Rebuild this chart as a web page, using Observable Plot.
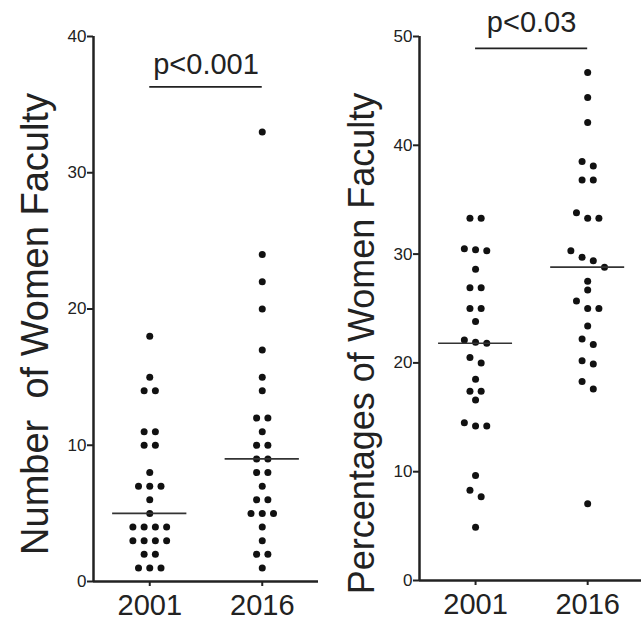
<!DOCTYPE html>
<html><head><meta charset="utf-8">
<script src="https://cdn.jsdelivr.net/npm/d3@7"></script>
<script src="https://cdn.jsdelivr.net/npm/@observablehq/plot@0.6"></script>
<style>
body{margin:0;background:#fff;}
#wrap{display:flex;width:641px;height:620px;overflow:hidden;}
#wrap svg{flex:none;display:block;}
#wrap svg text{white-space:pre;}
</style></head><body><div id="wrap"></div>
<script>
const years = ["2001", "2016"];
// Number of women faculty (left panel)
const numbers2001 = [18,15,14,14,11,11,10,10,8,7,7,7,6,5,4,4,4,4,3,3,3,3,2,2,1,1,1];
const numbers2016 = [33,24,22,20,17,15,14,12,12,11,10,10,9,9,8,8,7,6,6,5,5,5,4,3,2,2,1];
// Percentages of women faculty (right panel)
const pct2001 = [33.3,33.3,30.5,30.3,30.4,28.6,26.9,26.9,25.0,25.0,23.8,22.1,21.8,21.9,20.5,20.0,18.5,17.4,17.4,16.6,14.2,14.2,14.5,9.65,8.3,7.7,4.9];
const pct2016 = [46.7,44.4,42.1,38.5,38.1,36.8,36.8,33.8,33.3,33.3,30.3,29.7,29.4,28.8,27.5,26.7,25.7,25.0,25.0,23.4,22.2,21.7,20.2,19.9,18.3,17.6,7.05];
const pLabels = ["p<0.001", "p<0.03"];
const pBarValues = [36.3, 48.9];
const yLabels = ["Number  of Women Faculty", "Percentages of Women Faculty"];
const yTicksLeft = [0, 10, 20, 30, 40];
const yTicksRight = [0, 10, 20, 30, 40, 50];

// column-scatter layout: values close together share a row, centred on the category
function swarm(values, cat, thresh, step) {
  const sorted = values.map(v => ({v})).sort((a, b) => b.v - a.v);
  const out = []; let group = [];
  const flush = () => {
    const n = group.length;
    group.forEach((d, k) => out.push({value: d.v, cat, x: cat + (k - (n - 1) / 2) * step}));
    group = [];
  };
  for (const d of sorted) {
    if (group.length && group[group.length - 1].v - d.v >= thresh) flush();
    group.push(d);
  }
  flush();
  return out;
}

function panel({series, thresh, yDomain, yTicks, yLabel, pLabel, pY, pDy, width, marginLeft, marginRight, marginBottom, xMax, labelDx, labelDy, labelSize}) {
  const data = series.flatMap((vals, i) => swarm(vals, i + 1, thresh, 0.1));
  const med = series.map((vals, i) => ({cat: i + 1, m: d3.median(vals)}));
  const pxPerUnit = (width - marginLeft - marginRight) / (xMax - 0.5);
  const tickLen = 6 / pxPerUnit;
  const svg = Plot.plot({
    width, height: 620, marginTop: 36, marginBottom, marginLeft, marginRight,
    style: {fontFamily: "'Liberation Sans', Arial, sans-serif", fontSize: "17px", color: "#222", background: "white"},
    x: {domain: [0.5, xMax], ticks: [1, 2], tickFormat: i => years[i - 1], tickSize: 5, tickPadding: 8, label: null},
    y: {domain: yDomain, axis: null},
    marks: [
      // y axis: ticks and labels
      Plot.ruleY(yTicks, {y: d => d, x1: 0.5 - tickLen, x2: 0.5, stroke: "#222", strokeWidth: 2}),
      Plot.text(yTicks, {y: d => d, frameAnchor: "left", text: d => String(d), textAnchor: "end", dx: -7, fontSize: 17, fill: "#222"}),
      Plot.ruleX([0.5], {y1: yDomain[0], y2: yDomain[1], stroke: "#222", strokeWidth: 2.5}),
      Plot.ruleY([yDomain[0]], {x1: 0.5, x2: xMax, stroke: "#222", strokeWidth: 2.5}),
      Plot.dot(data, {x: "x", y: "value", r: 3.5, fill: "#111", stroke: null}),
      Plot.ruleY(med, {y: "m", x1: d => d.cat - 0.33, x2: d => d.cat + 0.33, stroke: "#333", strokeWidth: 1.6}),
      Plot.ruleY([pY], {x1: 1, x2: 2, stroke: "#222", strokeWidth: 1.8}),
      Plot.text([pLabel], {x: 1.5, y: pY, text: d => d, dy: pDy, lineAnchor: "bottom", fontSize: 29, fill: "#222"}),
      Plot.text([yLabel], {frameAnchor: "left", text: d => d, rotate: -90, dx: labelDx, dy: labelDy, fontSize: labelSize, fill: "#222", textAnchor: "middle", lineAnchor: "middle"})
    ]
  });
  const s = d3.select(svg);
  s.selectAll('[aria-label^="x-axis"], [aria-label^="x-axis"] text').attr("font-size", 29).style("font-size", "29px");
  s.selectAll('[aria-label^="x-axis"] path, [aria-label^="x-axis"] line, [aria-label="x-axis tick"]').attr("stroke-width", 2);
  return svg;
}

const wrap = document.getElementById("wrap");
wrap.append(panel({
  series: [numbers2001, numbers2016], thresh: 0.5, yDomain: [0, 40], yTicks: yTicksLeft,
  yLabel: yLabels[0], pLabel: pLabels[0], pY: pBarValues[0], pDy: -13,
  width: 320, marginLeft: 93, marginRight: 2, marginBottom: 39, xMax: 2.5, labelDx: -58, labelDy: 15, labelSize: 38
}));
wrap.append(panel({
  series: [pct2001, pct2016], thresh: 0.75, yDomain: [0, 50], yTicks: yTicksRight,
  yLabel: yLabels[1], pLabel: pLabels[1], pY: pBarValues[1], pDy: -16,
  width: 321, marginLeft: 99, marginRight: 0, marginBottom: 40, xMax: 2.48, labelDx: -57, labelDy: 35, labelSize: 36
}));
</script>
</body></html>
